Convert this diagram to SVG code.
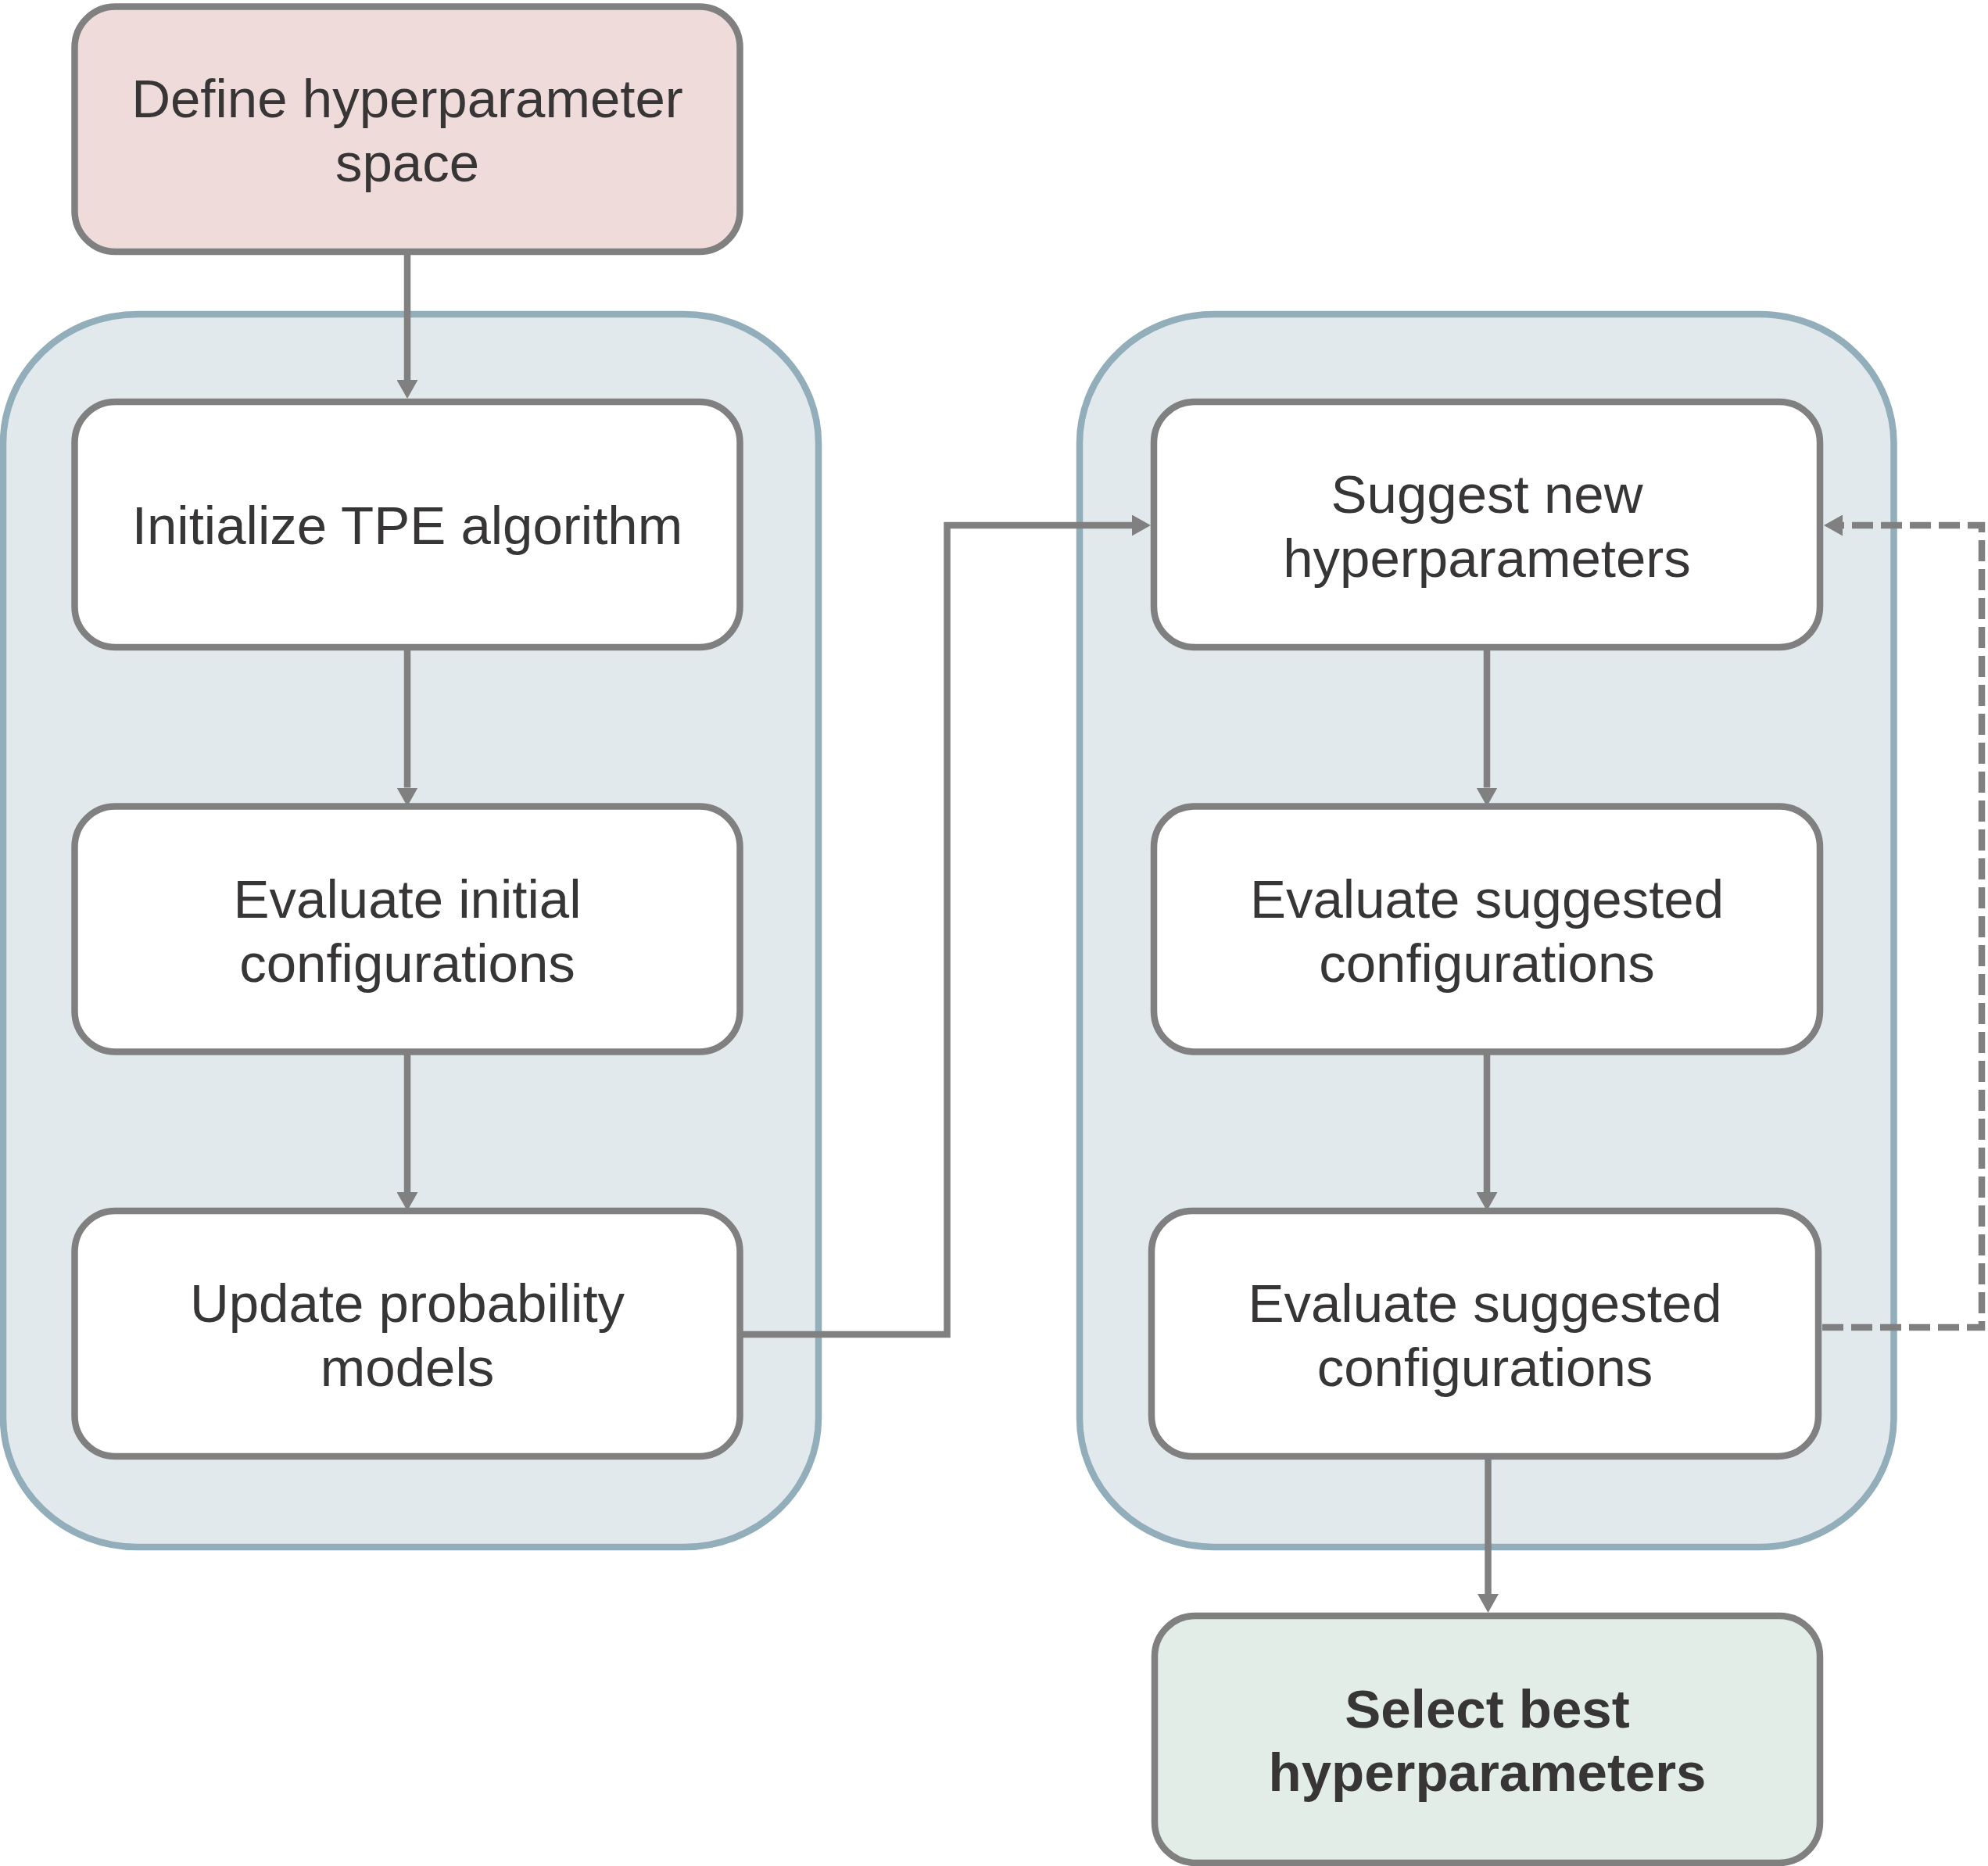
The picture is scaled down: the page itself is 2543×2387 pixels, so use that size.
<svg xmlns="http://www.w3.org/2000/svg" width="2543" height="2387" viewBox="0 0 2543 2387">
<style>
.container{fill:#e2e9ed;stroke:#93aebb;stroke-width:8.5}
.box{fill:#ffffff;stroke:#808080;stroke-width:8.5}
.start{fill:#f0dbdb}
.end{fill:#e3ede8}
.lbl{font-family:"Liberation Sans",Arial,Helvetica,sans-serif;font-size:69px;fill:#373535;text-anchor:middle}
.bold{font-weight:bold}
.conn{fill:none;stroke:#808080;stroke-width:8.5}
.dash{stroke-dasharray:27 10}
</style>
<defs>
<marker id="ah" markerUnits="userSpaceOnUse" markerWidth="24" markerHeight="27" viewBox="0 0 24 27" refX="0" refY="13.5" orient="auto">
<path d="M0,0 L24,13.5 L0,27 z" fill="#808080"/>
</marker>
</defs>
<g id="containers">
<rect id="phase1" class="container" x="4" y="402" width="1043" height="1577" rx="172" ry="165"/>
<rect id="phase2" class="container" x="1381" y="402" width="1041.5" height="1577" rx="172" ry="165"/>
</g>
<g id="n_define">
<rect class="box start" x="95.5" y="8.5" width="851" height="313.5" rx="52" ry="52"/>
<text class="lbl" x="521" y="150">Define hyperparameter</text>
<text class="lbl" x="521" y="232">space</text>
</g>
<g id="n_init">
<rect class="box" x="95.5" y="514" width="851" height="314" rx="52" ry="52"/>
<text class="lbl" x="521" y="695.5">Initialize TPE algorithm</text>
</g>
<g id="n_evalinit">
<rect class="box" x="95.5" y="1031.5" width="851" height="314" rx="52" ry="52"/>
<text class="lbl" x="521" y="1173.5">Evaluate initial</text>
<text class="lbl" x="521" y="1255.5">configurations</text>
</g>
<g id="n_update">
<rect class="box" x="95.5" y="1549" width="851" height="314" rx="52" ry="52"/>
<text class="lbl" x="521" y="1691">Update probability</text>
<text class="lbl" x="521" y="1773">models</text>
</g>
<g id="n_suggest">
<rect class="box" x="1476" y="514" width="852" height="314" rx="52" ry="52"/>
<text class="lbl" x="1902" y="656">Suggest new</text>
<text class="lbl" x="1902" y="738">hyperparameters</text>
</g>
<g id="n_evalsug1">
<rect class="box" x="1476" y="1031.5" width="852" height="314" rx="52" ry="52"/>
<text class="lbl" x="1902" y="1173.5">Evaluate suggested</text>
<text class="lbl" x="1902" y="1255.5">configurations</text>
</g>
<g id="n_evalsug2">
<rect class="box" x="1473" y="1549" width="853" height="314" rx="52" ry="52"/>
<text class="lbl" x="1899.5" y="1691">Evaluate suggested</text>
<text class="lbl" x="1899.5" y="1773">configurations</text>
</g>
<g id="n_select">
<rect class="box end" x="1477" y="2067" width="851" height="316" rx="52" ry="52"/>
<text class="lbl bold" x="1902.5" y="2210">Select best</text>
<text class="lbl bold" x="1902.5" y="2291">hyperparameters</text>
</g>
<g id="connectors">
<path class="conn" d="M521,322 V486" marker-end="url(#ah)"/>
<path class="conn" d="M521,828 V1007.5" marker-end="url(#ah)"/>
<path class="conn" d="M521,1345.5 V1525" marker-end="url(#ah)"/>
<path class="conn" d="M946,1707 H1211.5 V672 H1448" marker-end="url(#ah)"/>
<path class="conn" d="M1902,828 V1007.5" marker-end="url(#ah)"/>
<path class="conn" d="M1902,1345.5 V1525" marker-end="url(#ah)"/>
<path class="conn" d="M1903.5,1863 V2039" marker-end="url(#ah)"/>
<path class="conn dash" d="M2331,1698 H2535 V672 H2357" marker-end="url(#ah)"/>
</g>
</svg>
